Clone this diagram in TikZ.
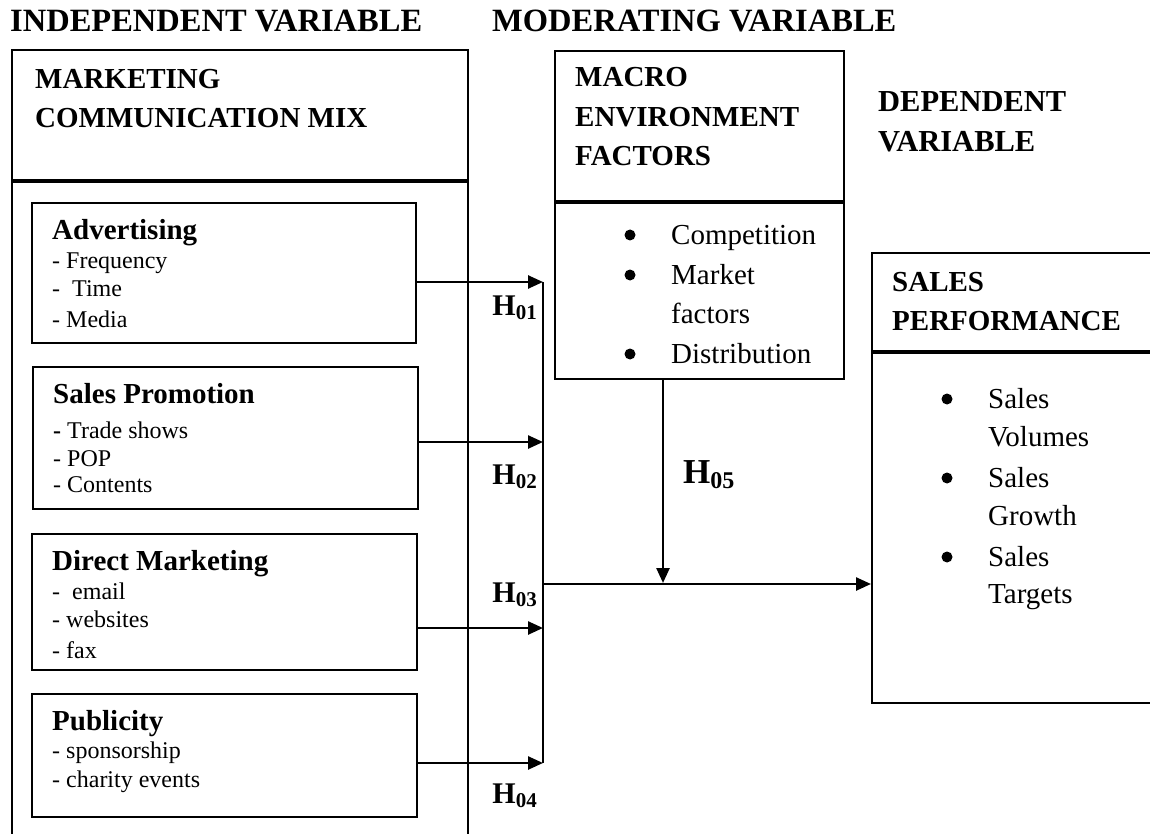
\documentclass[tikz,border=0pt]{standalone}
\usepackage{fontspec}
\setmainfont{Liberation Serif}
\usetikzlibrary{arrows.meta,positioning}

\newcommand{\hnum}[1]{H\raisebox{-4.5pt}{\fontsize{21}{21}\selectfont #1}}

\begin{document}
\begin{tikzpicture}[x=1pt,y=-1pt,>={Triangle[length=15pt,width=13pt]},
  box/.style={draw, line width=1.6pt, anchor=north west, inner sep=0pt},
  head/.style={anchor=base west, inner sep=0pt, font=\fontsize{32.5}{38}\selectfont\bfseries},
  title/.style={anchor=base west, inner sep=0pt, font=\fontsize{29}{35}\selectfont\bfseries},
  item/.style={anchor=base west, inner sep=0pt, font=\fontsize{24}{28}\selectfont},
  point/.style={anchor=base west, inner sep=0pt, font=\fontsize{29}{35}\selectfont},
  hyp/.style={anchor=base east, inner sep=0pt, font=\fontsize{30}{36}\selectfont\bfseries},
  sep/.style={line width=4pt},
  link/.style={line width=2.5pt}]
  \useasboundingbox (0,0) rectangle (1150,834);

  % column headings
  \node[head] (indep) at (10,32) {INDEPENDENT VARIABLE};
  \node[head] (moder) at (492,32) {MODERATING VARIABLE};
  \node[title, font=\fontsize{30.5}{36}\selectfont\bfseries] (dep1) at (878,112) {DEPENDENT};
  \node[title, font=\fontsize{30.5}{36}\selectfont\bfseries] (dep2) at (878,152) {VARIABLE};

  % independent variable
  \draw[line width=2pt] (12,834) |- (468,50) -- (468,834);
  \draw[sep] (12,181) -- (468,181);
  \node[title] (mcm1) at (35,89) {MARKETING};
  \node[title] (mcm2) at (35,128) {COMMUNICATION MIX};

  \node[box, minimum width=384pt, minimum height=140pt] (adv) at (31,202) {};
  \node[title] (advT) at (52,240) {Advertising};
  \node[item] (adv1) at (52,268) {- Frequency};
  \node[item] (adv2) at (52,296) {-\ \ Time};
  \node[item] (adv3) at (52,327) {- Media};

  \node[box, minimum width=385pt, minimum height=142pt] (spro) at (32,366) {};
  \node[title] (sproT) at (53,403) {Sales Promotion};
  \node[item] (spro1) at (53,438) {\textbf{-} Trade shows};
  \node[item] (spro2) at (53,466) {- POP};
  \node[item] (spro3) at (53,492) {- Contents};

  \node[box, minimum width=385pt, minimum height=136pt] (dmk) at (31,533) {};
  \node[title] (dmkT) at (52,570) {Direct Marketing};
  \node[item] (dmk1) at (52,599) {-\ \ email};
  \node[item] (dmk2) at (52,627) {- websites};
  \node[item] (dmk3) at (52,658) {- fax};

  \node[box, minimum width=385pt, minimum height=123pt] (pub) at (31,693) {};
  \node[title] (pubT) at (52,730) {Publicity};
  \node[item] (pub1) at (52,758) {- sponsorship};
  \node[item] (pub2) at (52,787) {- charity events};

  % moderating variable
  \node[box, minimum width=289pt, minimum height=328pt] (mef) at (554,50) {};
  \draw[sep] (554,202) -- (843,202);
  \node[title] (mef1) at (575,87) {MACRO};
  \node[title] (mef2) at (575,127) {ENVIRONMENT};
  \node[title] (mef3) at (575,166) {FACTORS};
  \foreach \y in {235,275,354} \fill (630,\y) circle (5.5pt);
  \node[point] (mefA) at (671,244) {Competition};
  \node[point] (mefB) at (671,284) {Market};
  \node[point] (mefC) at (671,323) {factors};
  \node[point] (mefD) at (671,363) {Distribution};

  % dependent variable
  \node[box, minimum width=320pt, minimum height=450pt] (salesp) at (871,252) {};
  \draw[sep] (871,352) -- (1150,352);
  \node[title] (salesp1) at (892,291) {SALES};
  \node[title] (salesp2) at (892,330) {PERFORMANCE};
  \foreach \y in {399,478,557} \fill (947,\y) circle (5.5pt);
  \node[point] (salA) at (988,408) {Sales};
  \node[point] (salB) at (988,446) {Volumes};
  \node[point] (salC) at (988,487) {Sales};
  \node[point] (salD) at (988,525) {Growth};
  \node[point] (salE) at (988,566) {Sales};
  \node[point] (salF) at (988,603) {Targets};

  % links
  \coordinate (j1) at (543,282);
  \coordinate (j2) at (543,442);
  \coordinate (j3) at (543,628);
  \coordinate (j4) at (543,763);
  \coordinate (j5) at (543,584);
  \coordinate (m5) at (663,583);
  \draw[line width=2pt] (j1) -- (j4);
  \path[->, link] (adv.east |- j1) edge (j1)
        (spro.east |- j2) edge (j2)
        (dmk.east |- j3) edge (j3)
        (pub.east |- j4) edge (j4)
        (j5) edge (salesp.west |- j5)
        (mef.south -| m5) edge (m5);

  \node[hyp] (h1) at (537,315) {\hnum{01}};
  \node[hyp] (h2) at (537,484) {\hnum{02}};
  \node[hyp] (h3) at (537,602) {\hnum{03}};
  \node[hyp] (h4) at (537,803) {\hnum{04}};
  \node[anchor=base west, inner sep=0pt, font=\fontsize{35}{40}\selectfont\bfseries] (h5) at (683,483)
    {H\raisebox{-5pt}{\fontsize{24}{24}\selectfont 05}};
\end{tikzpicture}
\end{document}
